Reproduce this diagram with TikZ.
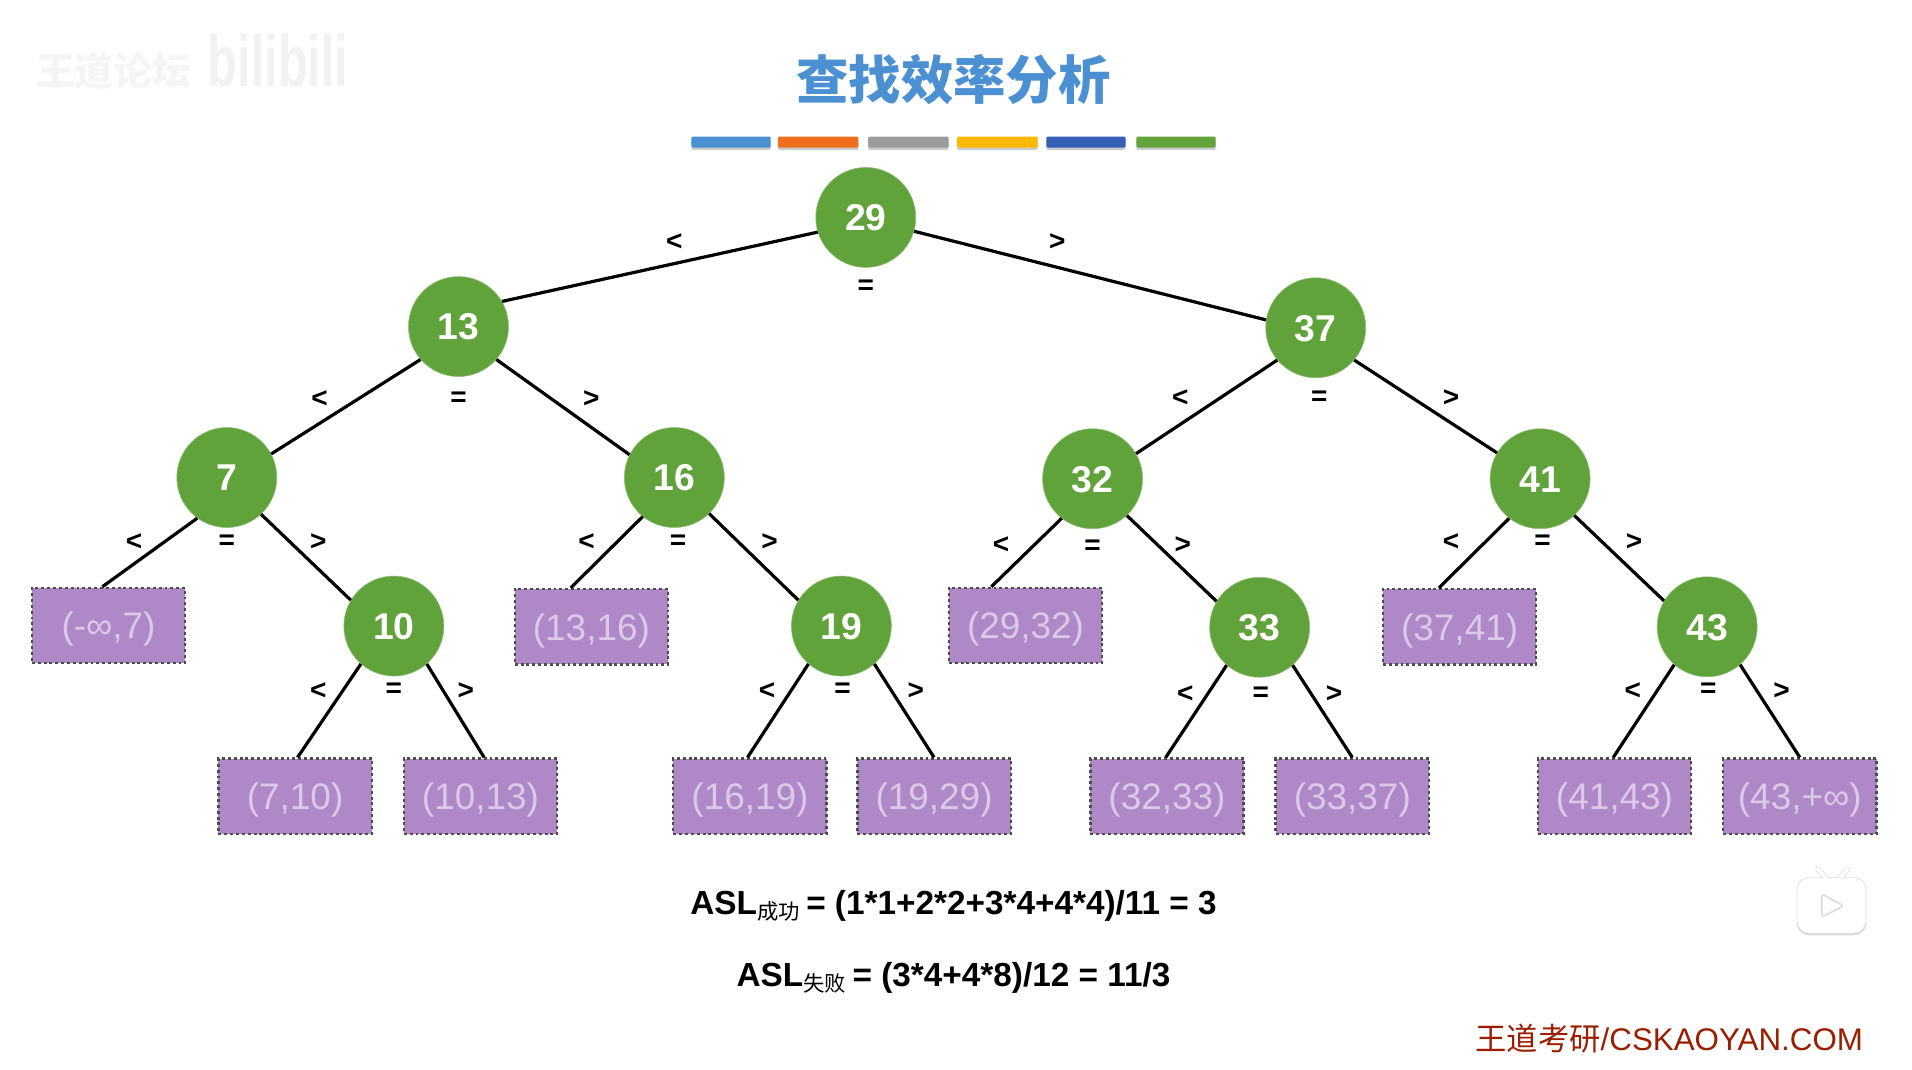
\documentclass[tikz,border=0pt]{standalone}
\usepackage{fontspec}
\setmainfont{Liberation Sans}
\newfontfamily\cjk{Noto Sans CJK SC}
\usetikzlibrary{calc}
\def\u{0.91454pt}
\definecolor{treegreen}{HTML}{61A33B}
\definecolor{boxpurple}{HTML}{AF89C7}
\definecolor{boxtext}{HTML}{DCC8E8}
\definecolor{titleblue}{HTML}{4A90D2}
\definecolor{sitered}{HTML}{9A1E00}
\tikzset{
  treenode/.style={circle,fill=treegreen,draw=treegreen!70!white,line width=0.4pt,minimum size=75pt,inner sep=0pt,text=white,text height=20pt,text depth=0pt,font=\fontsize{28}{28}\selectfont\bfseries},
  gapbox/.style={rectangle,fill=boxpurple,draw=black!70,line width=1.8pt,dash pattern=on 2.2pt off 2.2pt,minimum width=115pt,minimum height=56.5pt,inner sep=0pt,text=boxtext,text height=22pt,text depth=2pt,font=\fontsize{27.7}{28}\selectfont},
  treeedge/.style={line width=2.4pt,black},
  cmp/.style={font=\fontsize{21}{21}\selectfont\bfseries,inner sep=0pt,text=black,yshift=-2.2pt},
  barshadow/.style={fill=black,opacity=0.2},
}
\begin{document}
\begin{tikzpicture}[x=\u,y=-\u]
\useasboundingbox (0,0) rectangle (1568,876.72);
\fill[white] (0,0) rectangle (1568,876.72);
% watermarks
\node[inner sep=0pt,text=black!4] (wmA) at (93,58) {\fontsize{29}{29}\selectfont\cjk\bfseries 王道论坛};
\node[inner sep=0pt,text=black!5,xscale=1.4,yscale=2.1] (wmB) at (228,50) {\fontsize{26}{26}\selectfont\bfseries bilibili};
% title
\node[inner sep=0pt,text=titleblue] (title) at (782,65) {\fontsize{39.3}{39.3}\selectfont\cjk\bfseries 查找效率分析};
% colour bars
\foreach \a/\b/\c in {567/632/4A90D2,638/704/EE701C,712/778/9C9C9C,785/851/FFB900,858/923/3560B8,932/997/62A33C}{
  \definecolor{barc}{HTML}{\c}
  \fill[barshadow,rounded corners=1pt] (\a,114.5) rectangle (\b,123);
  \fill[barc,rounded corners=1pt] (\a,112) rectangle (\b,121);
}
% tree nodes
\foreach \n/\x/\y in {29/710/178.3,13/376/267.8,37/1079/268.8,7/186/391.6,16/553/391.6,32/896/392.6,41/1263/392.6,10/323/513.4,19/690/513.4,33/1033/514.4,43/1400/514}
  \node[treenode] (n\n) at (\x,\y) {\n};
% gap boxes
\node[gapbox] (g1) at (89,513) {(-∞,7)};
\node[gapbox] (g2) at (485,514) {(13,16)};
\node[gapbox] (g3) at (841,513) {(29,32)};
\node[gapbox] (g4) at (1197,514) {(37,41)};
\node[gapbox] (g5) at (242,653) {(7,10)};
\node[gapbox] (g6) at (394,653) {(10,13)};
\node[gapbox] (g7) at (615,653) {(16,19)};
\node[gapbox] (g8) at (766,653) {(19,29)};
\node[gapbox] (g9) at (957,653) {(32,33)};
\node[gapbox] (g10) at (1109,653) {(33,37)};
\node[gapbox] (g11) at (1324,653) {(41,43)};
\node[gapbox] (g12) at (1476,653) {(43,+∞)};
% edges between circles
\draw[treeedge] (n29.197) -- (n13.30);
\draw[treeedge] (n29.-16) -- (n37.171);
\draw[treeedge] (n13.221) -- (n7.28);
\draw[treeedge] (n13.-41) -- (n16.153);
\draw[treeedge] (n37.220) -- (n32.30);
\draw[treeedge] (n37.-40) -- (n41.149);
\draw[treeedge] (n7.-47) -- (n10.149);
\draw[treeedge] (n16.-46) -- (n19.149);
\draw[treeedge] (n32.-47) -- (n33.149);
\draw[treeedge] (n41.-47) -- (n43.149);
% edges to boxes
\foreach \p/\q/\ang/\off in {7/1/234/-5,16/2/231/-17,32/3/232/-28,41/4/232/-17,10/5/229/2,10/6/-49/3,19/7/229/-2,19/8/-49/0,33/9/229/-1,33/10/-49/0,43/11/229/-1,43/12/-49/0}
  \draw[treeedge] (n\p.\ang) -- ([xshift=\off*\u]g\q.north);
% comparison marks
\foreach \i/\x/\y/\s in {1/553/196/<,2/867/196/>,3/710/233/=,
  4/262/325/<,5/376/325/=,6/485/325/>,7/968/324/<,8/1082/324/=,9/1190/324/>,
  10/110/442/<,11/186/442/=,12/261/442/>,13/481/442/<,14/556/442/=,15/631/442/>,
  16/821/445/<,17/896/446/=,18/970/445/>,19/1190/442/<,20/1265/442/=,21/1340/442/>,
  22/261/564/<,23/323/564/=,24/382/564/>,25/629/564/<,26/691/564/=,27/751/564/>,
  28/972/567/<,29/1034/567/=,30/1094/567/>,31/1339/564/<,32/1401/564/=,33/1461/564/>}
  \node[cmp] (c\i) at (\x,\y) {\s};
% formulas
\node[inner sep=0pt,text=black] (aslA) at (782,743) {\fontsize{25}{25}\selectfont\bfseries ASL\raisebox{-4pt}{\fontsize{16}{16}\selectfont\cjk\mdseries 成功}\hspace{-2pt} = (1*1+2*2+3*4+4*4)/11 = 3};
\node[inner sep=0pt,text=black] (aslB) at (782,802) {\fontsize{25}{25}\selectfont\bfseries ASL\raisebox{-4pt}{\fontsize{16}{16}\selectfont\cjk\mdseries 失败}\hspace{-2pt} = (3*4+4*8)/12 = 11/3};
% site mark
\node[inner sep=0pt,text=sitered,anchor=east] (site) at (1528,852) {\fontsize{23.5}{24}\selectfont{\cjk 王道考研}/CSKAOYAN.COM};
% player icon
\draw[black!14,line width=4pt,line cap=round] (1491,713) -- (1499,722) (1515,713) -- (1507,722);
\fill[black,opacity=0.14,rounded corners=9pt] (1473.5,719.5) rectangle (1530.5,767);
\draw[white,line width=3pt,line cap=round] (1491,713) -- (1499,722) (1515,713) -- (1507,722);
\fill[white,rounded corners=9pt] (1474,720) rectangle (1530,765);
\draw[black!14,fill=white,line width=1.2pt,rounded corners=2pt,line join=round] (1494,733) -- (1512,743) -- (1494,752) -- cycle;
\end{tikzpicture}
\end{document}
